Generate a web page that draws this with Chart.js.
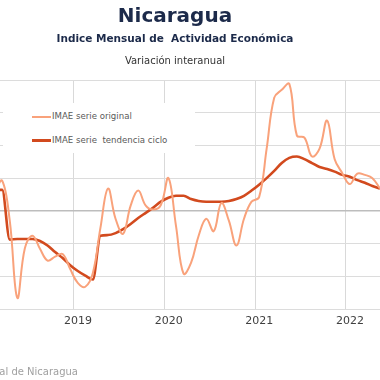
<!DOCTYPE html>
<html>
<head>
<meta charset="utf-8">
<script src="https://cdn.jsdelivr.net/npm/chart.js@4/dist/chart.umd.min.js"></script>
<style>
  html, body { margin: 0; padding: 0; background: #fff; }
  body { width: 380px; height: 380px; position: relative; overflow: hidden; font-family: 'DejaVu Sans', sans-serif; }
  #chartBox { position: absolute; left: 0; top: 0; width: 380px; height: 380px; }
  .title { position: absolute; left: 0; width: 350px; text-align: center; white-space: pre; }
  #t1 { top: 3px; font-size: 20px; font-weight: bold; color: #1c2a4a; }
  #t2 { top: 32px; font-size: 10.5px; font-weight: bold; color: #1c2a4a; }
  #t3 { top: 55px; font-size: 10px; color: #333; }
  #legend { position: absolute; left: 3px; top: 103px; width: 192px; height: 50px; background: #fff; }
  .item { position: absolute; left: 29px; font-size: 8.6px; color: #595959; white-space: pre; }
  .item span { display: inline-block; width: 19px; vertical-align: middle; margin-right: 1px; }
  #source { position: absolute; right: 302px; top: 366px; font-size: 10px; color: #a0a0a0; white-space: nowrap; }
</style>
</head>
<body>
<div id="chartBox"><canvas id="myChart" width="380" height="380"></canvas></div>
<div class="title" id="t1">Nicaragua</div>
<div class="title" id="t2">Indice Mensual de  Actividad Económica</div>
<div class="title" id="t3">Variación interanual</div>
<div id="legend">
  <div class="item" style="top:8px"><span style="border-top:2px solid #f9a27b"></span>IMAE serie original</div>
  <div class="item" style="top:32px"><span style="border-top:3px solid #d24a1e"></span>IMAE serie  tendencia ciclo</div>
</div>
<div id="source">Fuente: Banco Central de Nicaragua</div>
<script>
'use strict';

// months counted from Jan 2018 = 0
const months = [];
for ( let m = 1; m <= 52; m++ ) {
  months.push( m );
}

const original = [
  3.0, 4.6, -1.5, -13.3, -5.7, -3.8, -5.8, -7.6, -7.0, -6.6, -8.9, -11.0,
  -11.6, -9.5, -2.6, 3.4, -1.2, -3.5, 0.8, 3.1, 0.8, 0.2, 0.9, 5.0,
  -2.3, -9.6, -7.9, -3.8, -1.2, -3.1, 1.2, -1.5, -5.3, -1.2, 1.4, 2.1,
  9.5, 17.3, 18.5, 19.4, 11.5, 11.2, 8.3, 9.5, 13.8, 7.9, 5.8, 4.1,
  5.7, 5.5, 5.0, 3.4
];

const trend = [
  3.2, 3.2, -4.4, -4.3, -4.3, -4.3, -4.6, -5.3, -6.3, -7.2, -8.3, -9.2,
  -9.9, -10.5, -3.8, -3.7, -3.4, -2.8, -2.0, -1.1, -0.3, 0.5, 1.4, 2.0,
  2.3, 2.3, 1.8, 1.5, 1.4, 1.4, 1.4, 1.5, 1.8, 2.3, 3.1, 4.0,
  5.0, 6.1, 7.3, 8.1, 8.3, 7.9, 7.3, 6.7, 6.4, 6.0, 5.5, 5.2,
  4.7, 4.3, 3.8, 3.4
];

// year boundaries sit between December and January
const yearTicks = [ 11.5, 23.5, 35.5, 47.5 ];
const yearLabels = [ '2019', '2020', '2021', '2022' ];

function toPoints( values ) {
  return values.map( ( v, i ) => ( { x: months[i], y: v } ) );
}

let ctx = document.getElementById( 'myChart' ).getContext( '2d' );
let myChart = new Chart( ctx, {
  type: 'line',
  data: {
    datasets: [{
      label: 'IMAE serie original',
      data: toPoints( original ),
      borderColor: '#f9a27b',
      borderWidth: 2,
      pointRadius: 0,
      tension: 0.4,
      fill: false
    }, {
      label: 'IMAE serie  tendencia ciclo',
      data: toPoints( trend ),
      borderColor: '#d24a1e',
      borderWidth: 2.6,
      pointRadius: 0,
      cubicInterpolationMode: 'monotone',
      fill: false
    }]
  },
  options: {
    responsive: false,
    animation: false,
    layout: { padding: { top: 80, left: 0, right: 0, bottom: 0 } },
    plugins: {
      legend: { display: false },
      tooltip: { enabled: false }
    },
    scales: {
      x: {
        type: 'linear',
        min: 1.71,
        max: 52.0,
        afterBuildTicks: function( scale ) {
          scale.ticks = yearTicks.map( v => ( { value: v } ) );
        },
        afterFit: function( scale ) {
          scale.height = 71;
        },
        ticks: {
          padding: 6,
          labelOffset: 4,
          maxRotation: 0,
          color: '#404040',
          font: { family: 'DejaVu Sans', size: 11 },
          callback: function( value ) {
            return yearLabels[yearTicks.indexOf( value )];
          }
        },
        grid: { color: '#d9d9d9', drawTicks: false },
        border: { display: false }
      },
      y: {
        min: -15,
        max: 20,
        afterFit: function( scale ) {
          scale.width = 0;
        },
        ticks: { stepSize: 5, display: false },
        grid: {
          drawTicks: false,
          color: function( c ) {
            return c.tick && c.tick.value === 0 ? '#bdbdbd' : '#dcdcdc';
          },
          lineWidth: function( c ) {
            return c.tick && c.tick.value === 0 ? 1.5 : 1;
          }
        },
        border: { display: false }
      }
    }
  }
} );
</script>
</body>
</html>
